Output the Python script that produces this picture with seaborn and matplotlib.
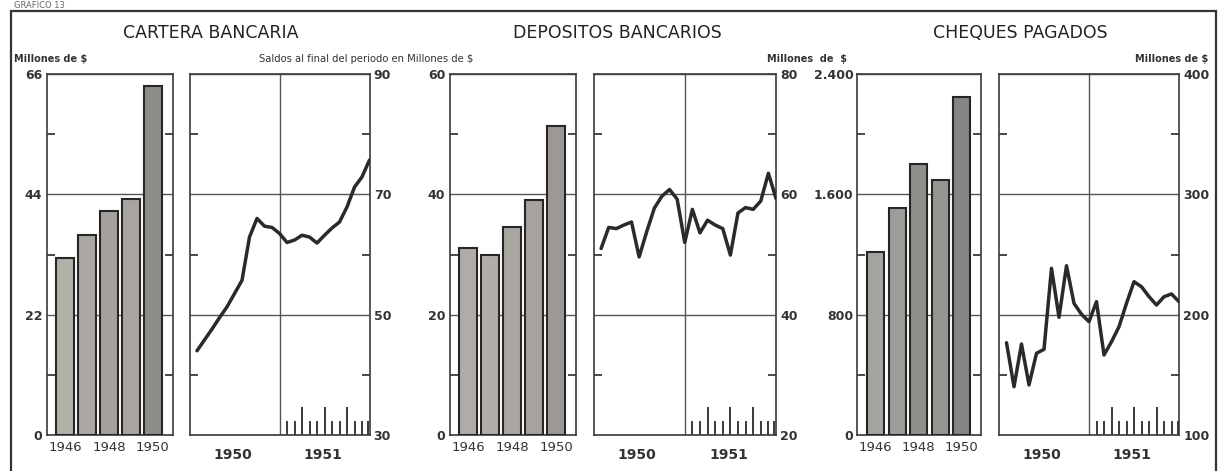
import matplotlib
matplotlib.use('Agg')
import matplotlib.pyplot as plt
import seaborn as sns
from matplotlib.patches import Rectangle

# Datos anuales (barras)
anios = ['1946', '1947', '1948', '1949', '1950']
cartera_anual = [32.3, 36.6, 41.0, 43.1, 63.8]
depositos_anual = [31.0, 29.9, 34.5, 39.1, 51.4]
cheques_anual = [1215, 1511, 1800, 1695, 2247]

# Datos mensuales 1950-1951 (lineas)
meses = list(range(1, 25))
cartera_mensual = [44.0, 45.8, 47.6, 49.5, 51.3, 53.5, 55.7, 62.9, 66.0, 64.7, 64.5, 63.5,
                   62.0, 62.4, 63.2, 62.9, 61.9, 63.2, 64.4, 65.4, 67.9, 71.2, 72.9, 75.7]
depositos_mensual = [51.0, 54.5, 54.3, 54.9, 55.4, 49.6, 53.8, 57.7, 59.7, 60.8, 59.2, 52.0,
                     57.5, 53.6, 55.7, 54.9, 54.3, 49.9, 56.9, 57.8, 57.5, 58.9, 63.5, 59.3]
cheques_mensual = [176.7, 140.1, 175.6, 141.6, 167.9, 171.2, 238.5, 197.8, 240.7, 209.4, 200.3, 194.2,
                   210.8, 166.5, 177.5, 190.0, 209.4, 227.4, 223.2, 215.0, 208.0, 214.9, 217.2, 210.8]

titulos = ['CARTERA BANCARIA', 'DEPOSITOS BANCARIOS', 'CHEQUES PAGADOS']
barras_ticks = [[0, 22, 44, 66], [0, 20, 40, 60], [0, 800, 1600, 2400]]
barras_labels = [['0', '22', '44', '66'], ['0', '20', '40', '60'], ['0', '800', '1.600', '2.400']]
lineas_ticks = [[30, 50, 70, 90], [20, 40, 60, 80], [100, 200, 300, 400]]

sns.set_style('white')
plt.rcParams['font.family'] = ['DejaVu Sans']

INK = '#2a2a2a'
GRID = '#555555'

fig = plt.figure(figsize=(12.21, 4.71), dpi=100)
W, H = 1221, 471


def caja(x0, x1, y0=74, y1=435):
    return [x0 / W, 1 - y1 / H, (x1 - x0) / W, (y1 - y0) / H]


def estilo_ejes(ax):
    for s in ax.spines.values():
        s.set_color('#3a3a3a')
        s.set_linewidth(1.2)


def panel_barras(rect, valores, ticks, labels, colores):
    ax = fig.add_axes(rect)
    sns.barplot(x=anios, y=valores, hue=anios, palette=colores, legend=False, ax=ax,
                width=0.8, edgecolor='#262626', linewidth=1.5, zorder=3)
    ax.set_xlim(-0.85, 4.9)
    ax.set_ylim(ticks[0], ticks[-1])
    ax.set_yticks(ticks)
    ax.set_yticklabels(labels, fontsize=9, fontweight='bold', color='#333')
    step = ticks[1] - ticks[0]
    ax.set_yticks([t + step / 2 for t in ticks[:-1]], minor=True)
    ax.tick_params(axis='y', which='major', length=0, pad=3)
    ax.tick_params(axis='y', which='minor', direction='in', length=6, width=1.3,
                   color='#3a3a3a', left=True, right=True)
    ax.yaxis.grid(True, color=GRID, linewidth=1.0, zorder=0)
    ax.set_axisbelow(True)
    ax.set_xticks([0, 2, 4])
    ax.set_xticklabels(['1946', '1948', '1950'], fontsize=9.5, color='#333')
    ax.tick_params(axis='x', length=0, pad=4)
    ax.set_xlabel('')
    ax.set_ylabel('')
    estilo_ejes(ax)
    return ax


def panel_linea(rect, valores, ticks):
    ax = fig.add_axes(rect)
    ax.axvline(12, color=GRID, linewidth=1.0, zorder=1)
    sns.lineplot(x=meses, y=valores, ax=ax, color=INK, linewidth=2.5, zorder=3)
    ax.set_xlim(0, 24)
    ax.set_ylim(ticks[0], ticks[-1])
    ax.yaxis.tick_right()
    ax.set_yticks(ticks)
    ax.set_yticklabels([str(t) for t in ticks], fontsize=9, fontweight='bold', color='#333')
    step = ticks[1] - ticks[0]
    ax.set_yticks([t + step / 2 for t in ticks[:-1]], minor=True)
    ax.tick_params(axis='y', which='major', length=0, pad=3)
    ax.tick_params(axis='y', which='minor', direction='in', length=6, width=1.3,
                   color='#3a3a3a', left=True, right=True)
    ax.yaxis.grid(True, which='major', color=GRID, linewidth=1.0, zorder=0)
    # marcas mensuales de 1951
    ax.set_xticks([15, 18, 21])
    ax.set_xticklabels(['', '', ''])
    ax.set_xticks([13, 14, 16, 17, 19, 20, 22, 23, 23.8], minor=True)
    ax.tick_params(axis='x', which='major', direction='in', length=20, width=1.4,
                   color='#3a3a3a', bottom=True, top=False)
    ax.tick_params(axis='x', which='minor', direction='in', length=10, width=1.4,
                   color='#3a3a3a', bottom=True, top=False)
    ax.text(0.24, -0.035, '1950', transform=ax.transAxes, ha='center', va='top',
            fontsize=10, fontweight='bold', color='#333')
    ax.text(0.74, -0.035, '1951', transform=ax.transAxes, ha='center', va='top',
            fontsize=10, fontweight='bold', color='#333')
    ax.set_xlabel('')
    ax.set_ylabel('')
    estilo_ejes(ax)
    return ax


colores1 = ['#b5b0a8', '#aca7a0', '#a5a09a', '#a9a59f', '#908d89']
colores2 = ['#b0aca5', '#b2aea7', '#aaa6a0', '#a7a39d', '#9d9994']
colores3 = ['#a6a39e', '#a09d98', '#928f8b', '#989590', '#878480']

panel_barras(caja(46.5, 172.5), cartera_anual, barras_ticks[0], barras_labels[0], colores1)
panel_linea(caja(189.5, 369.5), cartera_mensual, lineas_ticks[0])
panel_barras(caja(449.5, 576), depositos_anual, barras_ticks[1], barras_labels[1], colores2)
panel_linea(caja(593.5, 776), depositos_mensual, lineas_ticks[1])
panel_barras(caja(857.5, 981), cheques_anual, barras_ticks[2], barras_labels[2], colores3)
panel_linea(caja(999, 1179), cheques_mensual, lineas_ticks[2])

# Titulos y leyendas de unidades
for t, xc in zip(titulos, [211, 617, 1020]):
    fig.text(xc / W, 1 - 33 / H, t, ha='center', va='center', fontsize=12.5, color='#222')

fig.text(14 / W, 1 - 59 / H, 'Millones de $', ha='left', va='center', fontsize=7,
         fontweight='bold', color='#333')
fig.text(259 / W, 1 - 59 / H, 'Saldos al final del periodo en Millones de $', ha='left',
         va='center', fontsize=7.2, color='#333')
fig.text(767 / W, 1 - 59 / H, 'Millones  de  $', ha='left', va='center', fontsize=7,
         fontweight='bold', color='#333')
fig.text(1208 / W, 1 - 59 / H, 'Millones de $', ha='right', va='center', fontsize=7,
         fontweight='bold', color='#333')
fig.text(14 / W, 1 - 1 / H, 'GRAFICO 13', ha='left', va='top', fontsize=6, color='#666')

# Marco exterior
fig.patches.append(Rectangle((11 / W, -0.05), (1216 - 11) / W, 1 - 11 / H + 0.05,
                             transform=fig.transFigure, fill=False, lw=1.6,
                             edgecolor='#333'))

fig.savefig('out.png', dpi=100)
